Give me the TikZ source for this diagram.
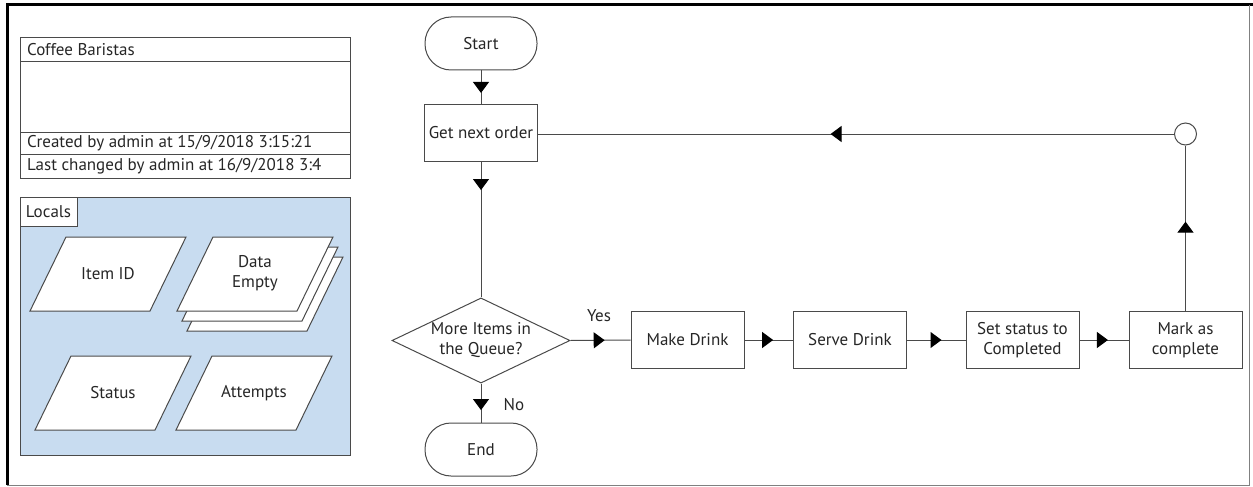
\documentclass[tikz,border=0pt]{standalone}
\usepackage{fontspec}
\setmainfont{PT Sans}
\usetikzlibrary{shapes.geometric,decorations.markings,arrows.meta}
\definecolor{linegray}{HTML}{4A4A4A}
\definecolor{localblue}{HTML}{C8DCF0}
\begin{document}
\begin{tikzpicture}[x=1pt,y=-1pt,
  every node/.style={font=\fontsize{17}{20}\selectfont,text=black!85},
  ln/.style={draw=linegray,line width=1pt},
  box/.style={ln,fill=white,minimum width=113pt,minimum height=57pt,inner sep=0pt,align=center},
  term/.style={ln,fill=white,minimum width=112pt,minimum height=53pt,inner sep=0pt,rounded corners=26pt},
  dec/.style={ln,fill=white,diamond,aspect=2,minimum width=178pt,minimum height=85pt,inner sep=0pt,align=center},
  junc/.style={ln,fill=white,circle,minimum size=22pt,inner sep=0pt},
  para/.style={ln,fill=white},
  ptext/.style={align=center,inner sep=0pt},
  lbl/.style={inner sep=0pt},
  conn/.style={draw=linegray,line width=1pt},
  arrowat/.style={postaction={decorate,decoration={markings,
    mark=at position #1 with {\arrow[black]{Triangle[width=16pt,length=11pt]}}}}},
]
\useasboundingbox (0,0) rectangle (1253,487);
% frame
\draw[black,line width=3pt] (7,485) -- (7,5) -- (1253,5);
\draw[gray,line width=1pt] (1249,5) -- (1249,485) -- (7,485);

% info box
\draw[ln] (20,38) rectangle (350,178);
\draw[ln] (20,62) -- (350,62);
\draw[ln] (20,132) -- (350,132);
\draw[ln] (20,154) -- (350,154);
\node[lbl,anchor=west] (title) at (27,50) {Coffee Baristas};
\node[lbl,anchor=west] (created) at (27,143) {Created by admin at 15/9/2018 3:15:21};
\node[lbl,anchor=west] (changed) at (27,166) {Last changed by admin at 16/9/2018 3:4};

% locals
\draw[ln,fill=localblue] (20,197) rectangle (350,455);
\draw[ln,fill=white] (20,197) rectangle (77,226);
\node[lbl] (locals) at (48.5,211.5) {Locals};

\newcommand{\paraAt}[2]{%
  \draw[para] (#1-42,#2-37) -- (#1+78,#2-37) -- (#1+42,#2+37) -- (#1-78,#2+37) -- cycle;}
\paraAt{108}{274}
\node[ptext] (itemid) at (108,274) {Item ID};
\paraAt{265}{294}
\paraAt{260}{284}
\paraAt{255}{274}
\node[ptext] (data) at (255,273) {Data\\Empty};
\paraAt{113}{393}
\node[ptext] (status) at (113,393) {Status};
\paraAt{254}{393}
\node[ptext] (attempts) at (254,393) {Attempts};

% flowchart
\node[term] (start) at (481,43.5) {Start};
\node[box] (get) at (481,132.5) {Get next order};
\node[dec] (queue) at (481,340.5) {More Items in\\the Queue?};
\node[term] (end) at (481,449.5) {End};
\node[box] (make) at (687.5,340) {Make Drink};
\node[box] (serve) at (850,340) {Serve Drink};
\node[box] (setst) at (1022.5,340) {Set status to\\Completed};
\node[box] (mark) at (1185.5,340) {Mark as\\complete};
\node[junc] (junction) at (1185.5,134) {};

\draw[conn,arrowat=0.68] (start) -- (get);
\draw[conn,arrowat=0.21] (get) -- (queue);
\draw[conn,arrowat=0.68] (queue) -- (end);
\draw[conn,arrowat=0.57] (queue.east) -- (make.west);
\draw[conn,arrowat=0.59] (make) -- (serve);
\draw[conn,arrowat=0.59] (serve) -- (setst);
\draw[conn,arrowat=0.58] (setst) -- (mark);
\draw[conn,arrowat=0.54] (mark) -- (junction);
\draw[conn,arrowat=0.54] (junction.west) -- (get.east |- junction.west);

\node[lbl] (yes) at (599,316) {Yes};
\node[lbl] (no) at (514,405) {No};
\end{tikzpicture}
\end{document}
